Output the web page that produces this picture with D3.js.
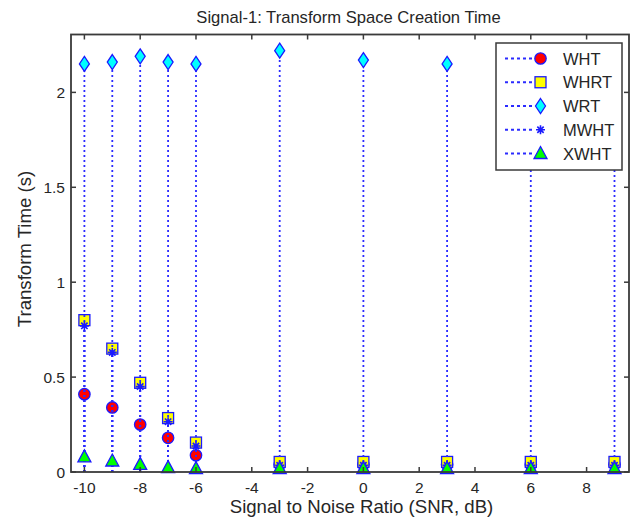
<!DOCTYPE html>
<html><head><meta charset="utf-8">
<script src="https://cdn.jsdelivr.net/npm/d3@7"></script>
<style>body{margin:0;background:#fff}svg{display:block}text{font-family:"Liberation Sans",Arial,sans-serif;fill:#262626}</style>
</head><body><svg id="c" width="638" height="525"></svg>
<script>
const snr = [-10, -9, -8, -7, -6, -3, 0, 3, 6, 9];
const seriesNames = ["WHT", "WHRT", "WRT", "MWHT", "XWHT"];
const wht  = [0.41, 0.34, 0.25, 0.18, 0.088, 0.04, 0.04, 0.04, 0.04, 0.04];
const whrt = [0.80, 0.65, 0.47, 0.284, 0.155, 0.053, 0.053, 0.053, 0.053, 0.053];
const wrt  = [2.15, 2.16, 2.19, 2.16, 2.15, 2.22, 2.17, 2.15, 2.17, 2.16];
const mwht = [0.77, 0.63, 0.45, 0.265, 0.137, 0.035, 0.035, 0.035, 0.035, 0.035];
const xwht = [0.08, 0.058, 0.04, 0.023, 0.018, 0.018, 0.018, 0.018, 0.018, 0.018];
const xTicks = [-10, -8, -6, -4, -2, 0, 2, 4, 6, 8];
const yTicks = [0, 0.5, 1, 1.5, 2];

const svg = d3.select("#c");
const L = 71, R = 629, T = 34.5, B = 472;
const x = d3.scaleLinear().domain([-10.48, 9.52]).range([L, R]);
const y = d3.scaleLinear().domain([0, 2.305]).range([B, T]);
const stemColor = "#2b2bff", edge = "#1a1aff";

const styles = [
  {shape:"circle", fill:"#ff0000"},
  {shape:"square", fill:"#ffff00"},
  {shape:"diamond", fill:"#00ffff"},
  {shape:"star", fill:"#1a1aff"},
  {shape:"triangle", fill:"#00ff00"}
];
const data = [wht, whrt, wrt, mwht, xwht];

function marker(g, s, cx, cy) {
  if (s.shape === "circle") {
    g.append("circle").attr("cx", cx).attr("cy", cy).attr("r", 5.7).attr("fill", s.fill).attr("stroke", edge).attr("stroke-width", 1.3);
  } else if (s.shape === "square") {
    g.append("rect").attr("x", cx-5.5).attr("y", cy-5.5).attr("width", 11).attr("height", 11).attr("fill", s.fill).attr("stroke", edge).attr("stroke-width", 1.3);
  } else if (s.shape === "diamond") {
    g.append("path").attr("d", `M${cx},${cy-7.5}L${cx+5},${cy}L${cx},${cy+7.5}L${cx-5},${cy}Z`).attr("fill", s.fill).attr("stroke", edge).attr("stroke-width", 1.3);
  } else if (s.shape === "triangle") {
    g.append("path").attr("d", `M${cx},${cy-7}L${cx+6.5},${cy+5}L${cx-6.5},${cy+5}Z`).attr("fill", s.fill).attr("stroke", edge).attr("stroke-width", 1.3);
  } else if (s.shape === "star") {
    const r = 4.5;
    let d = "";
    for (let k = 0; k < 4; k++) {
      const a = k * Math.PI / 4;
      d += `M${cx - r*Math.cos(a)},${cy - r*Math.sin(a)}L${cx + r*Math.cos(a)},${cy + r*Math.sin(a)}`;
    }
    g.append("path").attr("d", d).attr("stroke", s.fill).attr("stroke-width", 1.6);
  }
}

const plot = svg.append("g");
data.forEach((vals, si) => {
  const g = plot.append("g");
  vals.forEach((v, i) => {
    g.append("line").attr("x1", x(snr[i])).attr("x2", x(snr[i])).attr("y1", y(0)).attr("y2", y(v))
      .attr("stroke", stemColor).attr("stroke-width", 1.8).attr("stroke-dasharray", "2,3");
  });
  vals.forEach((v, i) => marker(g, styles[si], x(snr[i]), y(v)));
});

// box
svg.append("rect").attr("x", L).attr("y", T).attr("width", R-L).attr("height", B-T)
  .attr("fill", "none").attr("stroke", "#3a3a3a").attr("stroke-width", 1.8);
const tk = 5;
xTicks.forEach(t => {
  svg.append("line").attr("x1", x(t)).attr("x2", x(t)).attr("y1", B).attr("y2", B-tk).attr("stroke", "#3a3a3a").attr("stroke-width", 1.5);
  svg.append("line").attr("x1", x(t)).attr("x2", x(t)).attr("y1", T).attr("y2", T+tk).attr("stroke", "#3a3a3a").attr("stroke-width", 1.5);
  svg.append("text").attr("x", x(t)).attr("y", 493).attr("text-anchor", "middle").attr("font-size", 15.5).text(t);
});
yTicks.forEach(t => {
  svg.append("line").attr("x1", L).attr("x2", L+tk).attr("y1", y(t)).attr("y2", y(t)).attr("stroke", "#3a3a3a").attr("stroke-width", 1.5);
  svg.append("line").attr("x1", R).attr("x2", R-tk).attr("y1", y(t)).attr("y2", y(t)).attr("stroke", "#3a3a3a").attr("stroke-width", 1.5);
  svg.append("text").attr("x", L-6).attr("y", y(t)+5.5).attr("text-anchor", "end").attr("font-size", 15.5).text(t);
});

svg.append("text").attr("x", 348.5).attr("y", 22.5).attr("text-anchor", "middle").attr("font-size", 16.6).text("Signal-1: Transform Space Creation Time");
svg.append("text").attr("x", 361.5).attr("y", 513).attr("text-anchor", "middle").attr("font-size", 18.6).text("Signal to Noise Ratio (SNR, dB)");
svg.append("text").attr("transform", "translate(31,249) rotate(-90)").attr("text-anchor", "middle").attr("font-size", 18.6).text("Transform Time (s)");

// legend
const lg = svg.append("g");
lg.append("rect").attr("x", 496).attr("y", 43).attr("width", 126).attr("height", 127).attr("fill", "#fff").attr("stroke", "#3a3a3a").attr("stroke-width", 1.5);
seriesNames.forEach((n, i) => {
  const yy = 58.5 + i * 23.75;
  lg.append("line").attr("x1", 505).attr("x2", 535).attr("y1", yy).attr("y2", yy).attr("stroke", stemColor).attr("stroke-width", 1.8).attr("stroke-dasharray", "3,3");
  marker(lg, styles[i], 540.5, yy);
  lg.append("text").attr("x", 563).attr("y", yy+6).attr("font-size", 16.5).text(n);
});
</script></body></html>
